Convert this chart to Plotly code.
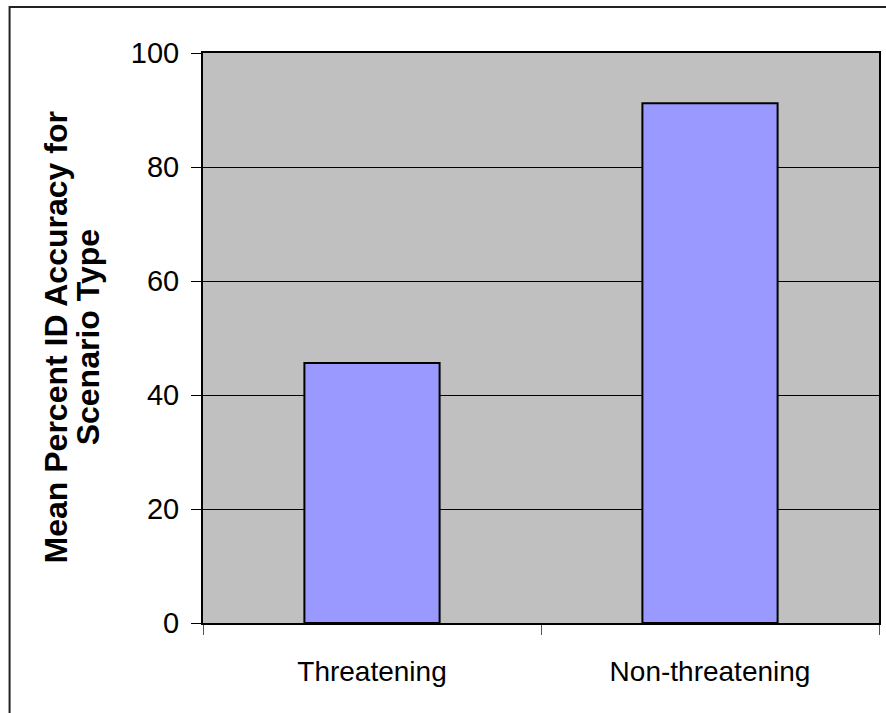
import plotly.graph_objects as go

# Mean percent identification accuracy by scenario type
categories = ["Threatening", "Non-threatening"]
accuracy = [45.6, 91.2]
y_ticks = [0, 20, 40, 60, 80, 100]

W, H = 886, 713
L, R, T, B = 203, 5, 53, 90  # margins around the plotting area

fig = go.Figure(
    go.Bar(
        x=categories,
        y=accuracy,
        width=0.4,
        marker=dict(color="#9999ff", line=dict(color="#000000", width=2)),
        hoverinfo="x+y",
    )
)

plot_w = W - L - R
plot_h = H - T - B

def px_to_paper_x(px):
    return (px - L) / plot_w

def px_to_paper_y(py):
    return (H - B - py) / plot_h

fig.update_layout(
    width=W,
    height=H,
    margin=dict(l=L, r=R, t=T, b=B, pad=0),
    paper_bgcolor="#ffffff",
    plot_bgcolor="#c0c0c0",
    showlegend=False,
    font=dict(family="Liberation Sans, Arial, sans-serif", color="#000000", size=28),
    bargap=0.6,
    xaxis=dict(
        type="category",
        tickson="boundaries",
        ticks="outside",
        ticklen=10,
        tickwidth=1,
        tickcolor="#555555",
        showgrid=False,
        showline=True,
        linecolor="#000000",
        linewidth=2,
        mirror=True,
        ticklabelstandoff=22,
        tickfont=dict(size=28),
    ),
    yaxis=dict(
        range=[0, 100],
        tickvals=y_ticks,
        ticktext=[str(v) for v in y_ticks],
        ticks="outside",
        ticklen=10,
        tickwidth=1,
        tickcolor="#000000",
        showgrid=True,
        gridcolor="#000000",
        gridwidth=1,
        zeroline=False,
        showline=True,
        linecolor="#000000",
        linewidth=2,
        mirror=True,
        ticklabelstandoff=6,
        tickfont=dict(size=29),
    ),
)

# Two-line vertical axis title
title_lines = ["Mean Percent ID Accuracy for", "Scenario Type"]
title_x_px = [56, 88]
for line, xp in zip(title_lines, title_x_px):
    fig.add_annotation(
        text=line,
        xref="paper",
        yref="paper",
        x=px_to_paper_x(xp),
        y=px_to_paper_y(337),
        xanchor="center",
        yanchor="middle",
        textangle=-90,
        showarrow=False,
        font=dict(size=32, family="Liberation Sans, Arial, sans-serif", color="#000000", weight="bold"),
    )

# Outer chart frame
fig.add_shape(
    type="rect",
    xref="paper",
    yref="paper",
    x0=px_to_paper_x(9),
    x1=px_to_paper_x(W + 20),
    y0=px_to_paper_y(H + 20),
    y1=px_to_paper_y(7),
    line=dict(color="#222222", width=2),
    fillcolor="rgba(0,0,0,0)",
    layer="below",
)

fig.write_html("out.html")
